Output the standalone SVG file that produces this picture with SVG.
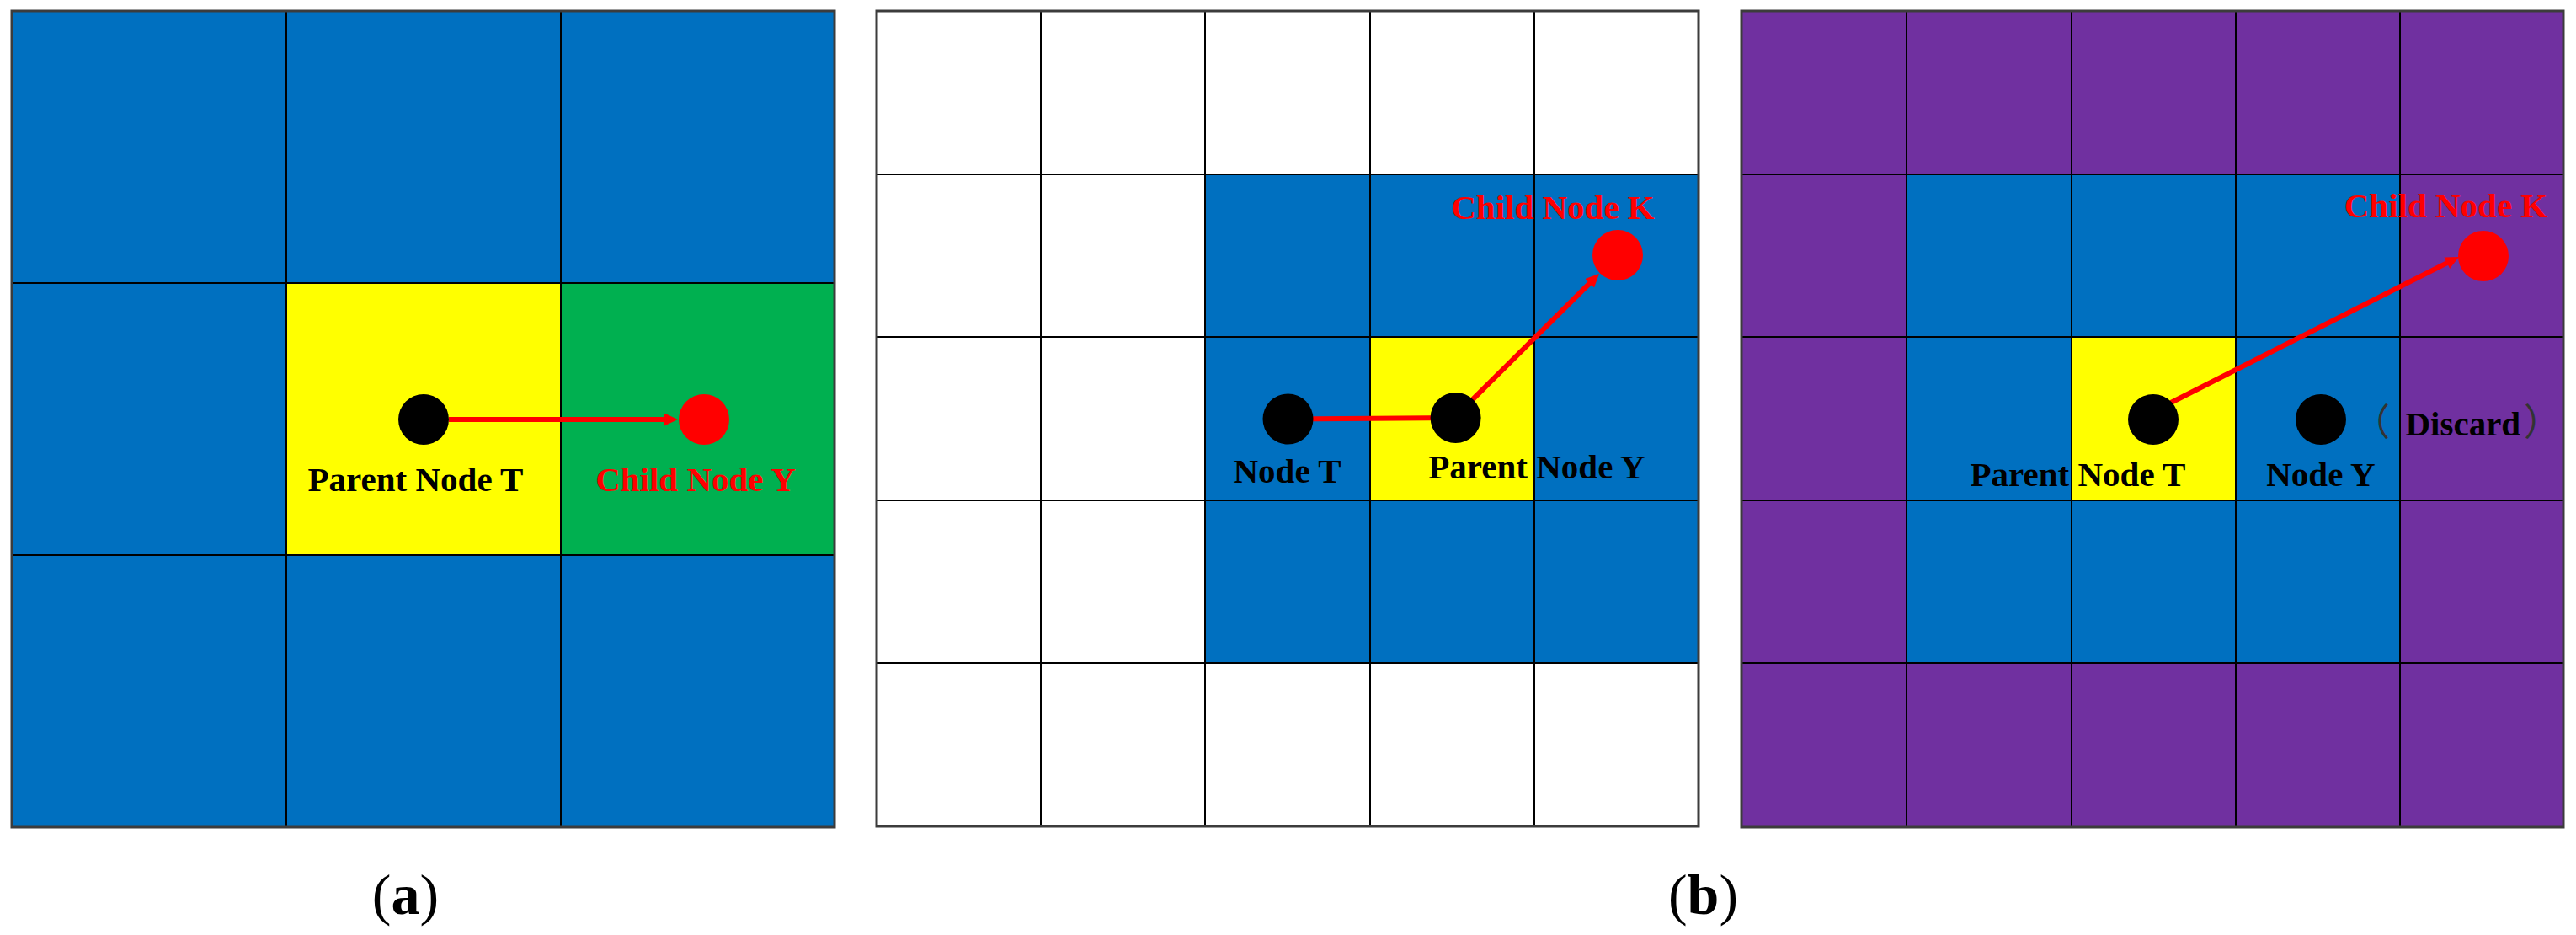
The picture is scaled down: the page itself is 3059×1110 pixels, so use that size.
<svg xmlns="http://www.w3.org/2000/svg" width="3059" height="1110" viewBox="0 0 3059 1110">
<style>
.grid{fill:none;stroke:#000;stroke-width:2}
.border{fill:none;stroke:#3c3c3c;stroke-width:3}
.blue{fill:#0070C0}
.yellow{fill:#FFFF00}
.green{fill:#00B050}
.purple{fill:#7030A0}
.dot{fill:#000}
.rdot{fill:#FF0000}
.lbl{font-family:"Liberation Serif","Times New Roman",serif;font-weight:bold;font-size:41px;text-anchor:middle;fill:#000}
.rlbl{fill:#FF0000}
.cap{font-family:"Liberation Serif","Times New Roman",serif;font-size:68px;text-anchor:middle;fill:#000}
.edge{stroke:#FF0000;stroke-width:6;fill:none}
</style>
<defs>
<marker id="arr" markerUnits="userSpaceOnUse" markerWidth="16" markerHeight="15" refX="4" refY="7.5" orient="auto" viewBox="0 0 16 15">
<path d="M0,0 L16,7.5 L0,15 z" fill="#FF0000"/>
</marker>
</defs>
<rect width="3059" height="1110" fill="#fff"/>
<g id="panel-a">
<rect class="blue" x="14" y="13" width="977" height="969"/>
<rect class="yellow" x="340" y="336" width="326" height="323"/>
<rect class="green" x="666" y="336" width="325" height="323"/>
<path class="grid" d="M340,13V982M666,13V982M14,336H991M14,659H991"/>
<rect class="border" x="14" y="13" width="977" height="969"/>
</g>
<g id="panel-b">
<rect fill="#fff" x="1041" y="13" width="976" height="968"/>
<rect class="blue" x="1431" y="207" width="586" height="580"/>
<rect class="yellow" x="1627" y="400" width="195" height="194"/>
<path class="grid" d="M1236,13V981M1431,13V981M1627,13V981M1822,13V981M1041,207H2017M1041,400H2017M1041,594H2017M1041,787H2017"/>
<rect class="border" x="1041" y="13" width="976" height="968"/>
</g>
<g id="panel-c">
<rect class="purple" x="2068" y="13" width="976" height="969"/>
<rect class="blue" x="2264" y="207" width="586" height="580"/>
<rect class="yellow" x="2460" y="400" width="195" height="194"/>
<path class="grid" d="M2264,13V982M2460,13V982M2655,13V982M2850,13V982M2068,207H3044M2068,400H3044M2068,594H3044M2068,787H3044"/>
<rect class="border" x="2068" y="13" width="976" height="969"/>
</g>
<g id="connectors">
<line class="edge" x1="533" y1="498" x2="793" y2="498" marker-end="url(#arr)"/>
<line class="edge" x1="1529.5" y1="497.5" x2="1728.6" y2="496"/>
<line class="edge" x1="1745" y1="478" x2="1890.5" y2="333.5" marker-end="url(#arr)"/>
<line class="edge" x1="2578" y1="478" x2="2909.3" y2="310.4" marker-end="url(#arr)"/>
</g>
<g id="a-parent-T">
<circle class="dot" cx="503" cy="498" r="30"/>
<text class="lbl" x="493.5" y="583">Parent Node T</text>
</g>
<g id="a-child-Y">
<circle class="rdot" cx="836" cy="498" r="30"/>
<text class="lbl rlbl" x="826" y="583">Child Node Y</text>
</g>
<g id="b-node-T">
<circle class="dot" cx="1529.5" cy="497.5" r="30"/>
<text class="lbl" x="1528.5" y="573">Node T</text>
</g>
<g id="b-parent-Y">
<circle class="dot" cx="1728.6" cy="496" r="30"/>
<text class="lbl" x="1825" y="568">Parent Node Y</text>
</g>
<g id="b-child-K">
<circle class="rdot" cx="1921" cy="303" r="30"/>
<text class="lbl rlbl" x="1844" y="260">Child Node K</text>
</g>
<g id="c-parent-T">
<circle class="dot" cx="2557" cy="498" r="30"/>
<text class="lbl" x="2467.5" y="577">Parent Node T</text>
</g>
<g id="c-node-Y">
<circle class="dot" cx="2756" cy="498" r="30"/>
<text class="lbl" x="2756" y="577">Node Y</text>
<text class="lbl" x="2794" y="517" style="text-anchor:start"><tspan font-family="'Noto Sans CJK SC',sans-serif" font-weight="normal" font-size="44" fill="#333">（</tspan><tspan x="2856.5">Discard</tspan><tspan x="2997" font-family="'Noto Sans CJK SC',sans-serif" font-weight="normal" font-size="44" fill="#333">）</tspan></text>
</g>
<g id="c-child-K">
<circle class="rdot" cx="2949" cy="304" r="30"/>
<text class="lbl rlbl" x="2904.5" y="258">Child Node K</text>
</g>
<text class="cap" x="481.5" y="1085">(<tspan font-weight="bold">a</tspan>)</text>
<text class="cap" x="2022.5" y="1085">(<tspan font-weight="bold">b</tspan>)</text>
</svg>
